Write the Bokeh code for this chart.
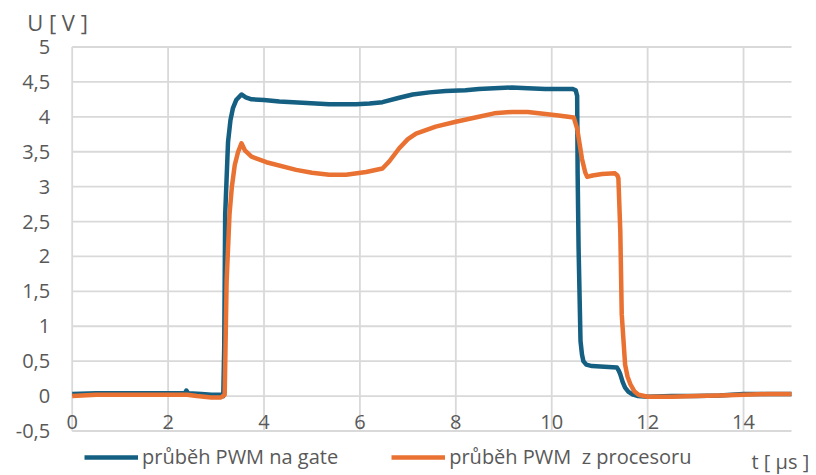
from bokeh.plotting import figure
from bokeh.models import (ColumnDataSource, FixedTicker, Legend, LegendItem,
                          Label, Range1d)
from bokeh.embed import file_html
from bokeh.resources import INLINE

# Gate voltage waveform (time in microseconds, voltage in volts)
gate_t = [0.0, 0.5, 1.0, 1.5, 2.0, 2.35, 2.38, 2.42, 2.7, 2.9, 3.1, 3.15,
          3.17, 3.19, 3.25, 3.30, 3.35, 3.42, 3.53, 3.62, 3.74, 4.0, 4.32,
          4.8, 5.36, 5.92, 6.2, 6.47, 6.8, 7.10, 7.45, 7.79, 8.2, 8.48, 8.8,
          9.17, 9.5, 9.87, 10.2, 10.43, 10.50, 10.53, 10.54, 10.56, 10.60,
          10.63, 10.66, 10.72, 10.84, 11.1, 11.36, 11.40, 11.43, 11.48,
          11.53, 11.6, 11.7, 11.8, 12.0, 12.5, 13.0, 13.5, 14.0, 14.5, 15.0]
gate_v = [0.03, 0.04, 0.04, 0.04, 0.04, 0.04, 0.08, 0.04, 0.03, 0.02, 0.02,
          0.0, 0.69, 2.6, 3.64, 3.95, 4.12, 4.24, 4.32, 4.28, 4.25, 4.24,
          4.22, 4.20, 4.18, 4.18, 4.19, 4.21, 4.27, 4.32, 4.35, 4.37, 4.38,
          4.40, 4.41, 4.42, 4.41, 4.40, 4.40, 4.40, 4.38, 4.30, 3.2, 2.12,
          0.79, 0.6, 0.5, 0.45, 0.43, 0.42, 0.41, 0.36, 0.31, 0.2, 0.12,
          0.06, 0.02, 0.0, -0.01, 0.0, 0.0, 0.01, 0.03, 0.03, 0.03]

# PWM output of the processor
cpu_t = [0.0, 0.5, 1.0, 1.5, 2.0, 2.4, 2.6, 2.9, 3.1, 3.18, 3.22, 3.28,
         3.33, 3.39, 3.46, 3.53, 3.6, 3.74, 4.05, 4.67, 5.0, 5.36, 5.71,
         6.13, 6.47, 6.61, 6.82, 7.0, 7.17, 7.58, 8.0, 8.48, 8.8, 9.17, 9.5,
         9.87, 10.14, 10.46, 10.53, 10.63, 10.70, 10.74, 10.85, 11.05,
         11.32, 11.37, 11.39, 11.43, 11.46, 11.53, 11.58, 11.64, 11.72,
         11.81, 12.0, 12.5, 13.0, 13.5, 14.0, 14.5, 15.0]
cpu_v = [0.0, 0.02, 0.02, 0.02, 0.02, 0.02, 0.0, -0.02, -0.02, 0.02, 1.64,
         2.6, 3.0, 3.31, 3.50, 3.62, 3.52, 3.43, 3.35, 3.24, 3.20, 3.17,
         3.17, 3.21, 3.26, 3.36, 3.55, 3.68, 3.76, 3.86, 3.93, 4.00, 4.05,
         4.07, 4.07, 4.04, 4.02, 3.99, 3.83, 3.40, 3.2, 3.14, 3.16, 3.18,
         3.19, 3.16, 3.12, 2.36, 1.17, 0.45, 0.28, 0.17, 0.07, 0.02, -0.01,
         -0.01, 0.0, 0.01, 0.02, 0.03, 0.03]

x_ticks = [0, 2, 4, 6, 8, 10, 12, 14]
y_ticks = [-0.5, 0, 0.5, 1, 1.5, 2, 2.5, 3, 3.5, 4, 4.5, 5]
y_tick_labels = ["-0,5", "0", "0,5", "1", "1,5", "2", "2,5", "3", "3,5",
                 "4", "4,5", "5"]

series_names = ["průběh PWM na gate", "průběh PWM  z procesoru"]
series_colors = ["#156082", "#E97132"]

X_MIN, X_MAX = 0, 15
Y_MIN, Y_MAX = -0.5, 5

FONT = "Open Sans"
TEXT_COLOR = "#595959"
GRID_COLOR = "#d9d9d9"

# Canvas size and where the plotting area sits inside it (pixels)
W, H = 816, 475
AREA_LEFT, AREA_RIGHT = 71.7, 791.0
AREA_TOP, AREA_BOTTOM = 46.5, 430.5

# The frame spans the whole canvas; ranges are extended so that the data
# area lands on the rectangle above, leaving room for the labels around it.
sx = (AREA_RIGHT - AREA_LEFT) / (X_MAX - X_MIN)
sy = (AREA_BOTTOM - AREA_TOP) / (Y_MAX - Y_MIN)
x_range = Range1d(X_MIN - AREA_LEFT / sx, X_MAX + (W - AREA_RIGHT) / sx)
y_range = Range1d(Y_MIN - (H - AREA_BOTTOM) / sy, Y_MAX + AREA_TOP / sy)

p = figure(width=W, height=H, x_range=x_range, y_range=y_range,
           output_backend="svg", toolbar_location=None,
           min_border_left=0, min_border_right=0,
           min_border_top=0, min_border_bottom=0)
p.outline_line_color = None
p.background_fill_color = "white"
p.border_fill_color = "white"
p.grid.visible = False

# gridlines limited to the data area
p.segment(x0=x_ticks, y0=[Y_MIN] * len(x_ticks),
          x1=x_ticks, y1=[Y_MAX] * len(x_ticks),
          line_color=GRID_COLOR, line_width=1.8)
p.segment(x0=[X_MIN] * len(y_ticks), y0=y_ticks,
          x1=[X_MAX] * len(y_ticks), y1=y_ticks,
          line_color=GRID_COLOR, line_width=1.8)

# axes pinned to the edges of the data area
p.xaxis.fixed_location = Y_MIN
p.yaxis.fixed_location = X_MIN
p.xaxis.ticker = FixedTicker(ticks=x_ticks)
p.yaxis.ticker = FixedTicker(ticks=y_ticks)
p.yaxis.major_label_overrides = {t: s for t, s in zip(y_ticks, y_tick_labels)}
for ax in (p.xaxis, p.yaxis):
    ax.axis_line_color = None
    ax.major_tick_line_color = None
    ax.minor_tick_line_color = None
    ax.major_tick_out = 0
    ax.major_tick_in = 0
    ax.major_label_text_font = FONT
    ax.major_label_text_font_size = "20px"
    ax.major_label_text_color = TEXT_COLOR
p.yaxis.major_label_standoff = 22
p.xaxis.major_label_standoff = -16

src_gate = ColumnDataSource(dict(t=gate_t, v=gate_v))
src_cpu = ColumnDataSource(dict(t=cpu_t, v=cpu_v))
r_gate = p.line("t", "v", source=src_gate, line_color=series_colors[0],
                line_width=4.5, line_join="round")
r_cpu = p.line("t", "v", source=src_cpu, line_color=series_colors[1],
               line_width=4.5, line_join="round")

legend = Legend(items=[LegendItem(label=series_names[0], renderers=[r_gate]),
                       LegendItem(label=series_names[1], renderers=[r_cpu])],
                orientation="horizontal", location=(84, 5),
                glyph_width=54, glyph_height=20, label_height=20,
                label_standoff=4, spacing=53, padding=0, margin=0,
                border_line_color=None, background_fill_alpha=0,
                label_text_font=FONT, label_text_font_size="20px",
                label_text_color=TEXT_COLOR)
p.add_layout(legend, "center")

p.add_layout(Label(x=X_MIN, y=Y_MAX, x_offset=-45, y_offset=25,
                   text="U [ V ]", text_font=FONT, text_font_size="22px",
                   text_color=TEXT_COLOR, text_baseline="middle"))
p.add_layout(Label(x=X_MAX, y=Y_MIN, x_offset=-40, y_offset=-30,
                   text="t [ µs ]", text_font=FONT, text_font_size="20px",
                   text_color=TEXT_COLOR, text_baseline="middle"))

open("out.html", "w").write(file_html(p, INLINE))
